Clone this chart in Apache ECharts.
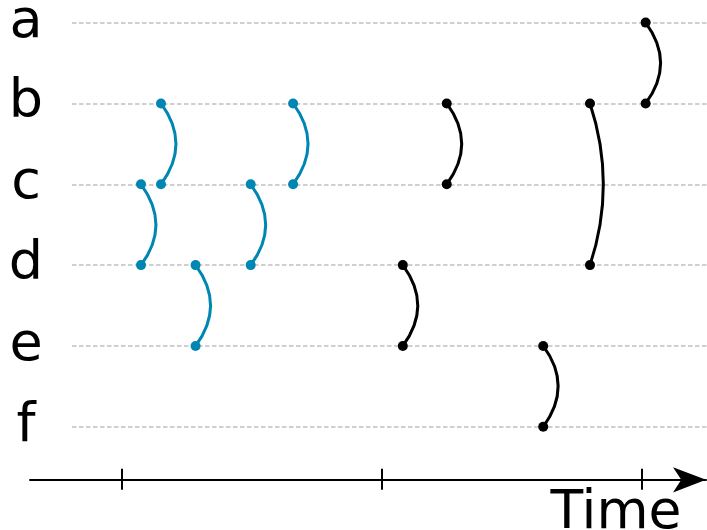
<!DOCTYPE html>
<html><head><meta charset="utf-8">
<script src="https://cdn.jsdelivr.net/npm/echarts@6/dist/echarts.min.js"></script>
<style>html,body{margin:0;padding:0;background:#fff}#c{width:707px;height:530px}</style>
</head><body><div id="c"></div>
<script>
// rows (top to bottom)
const categories = ['a', 'b', 'c', 'd', 'e', 'f'];
// tick marks on the time axis
const timeTicks = [10, 20, 30];
// blue group of links: time, upper row, lower row
const blueTimes = [10.73, 11.5, 12.83, 14.95, 16.58];
const blueFrom  = ['c', 'b', 'd', 'c', 'b'];
const blueTo    = ['d', 'c', 'e', 'd', 'c'];
// black group of links
const blackTimes = [20.8, 22.49, 26.2, 28.0, 30.14];
const blackFrom  = ['d', 'b', 'e', 'b', 'a'];
const blackTo    = ['e', 'c', 'f', 'd', 'b'];

const BLUE = '#0086b3', BLACK = '#000000';
const TOP = 22.6, HEIGHT = 404.2;

function linkData(times, from, to) {
  return times.map((t, i) => {
    const a = categories.indexOf(from[i]), b = categories.indexOf(to[i]);
    const span = Math.abs(b - a);
    return { coords: [[t, Math.min(a, b)], [t, Math.max(a, b)]],
             lineStyle: { curveness: span === 1 ? 0.37 : 0.165 } };
  });
}
function pointData(times, from, to) {
  const out = [];
  times.forEach((t, i) => {
    out.push([t, categories.indexOf(from[i])]);
    out.push([t, categories.indexOf(to[i])]);
  });
  return out;
}

const XMIN = 6.4615, XMAX = 32.4615;
const chart = echarts.init(document.getElementById('c'), null, { renderer: 'canvas' });
chart.setOption({
  animation: false,
  backgroundColor: '#ffffff',
  grid: [
    { left: 72, right: 0, top: TOP, height: HEIGHT, containLabel: false, outerBoundsMode: 'none' },
    { left: 30, right: 1, top: TOP, height: HEIGHT, containLabel: false, outerBoundsMode: 'none' }
  ],
  xAxis: [
    { gridIndex: 0, type: 'value', show: false, min: 0, max: 1 },
    { gridIndex: 1, type: 'value', min: XMIN, max: XMAX, position: 'bottom', offset: 53,
      axisLine: { show: true, symbol: ['none', 'arrow'], symbolSize: [19, 33],
                  lineStyle: { color: '#000', width: 2 } },
      axisTick: { show: true, customValues: timeTicks, inside: false, length: 10,
                  lineStyle: { color: '#000', width: 2 } },
      axisLabel: { show: false }, splitLine: { show: false },
      name: 'Time', nameLocation: 'end', nameGap: -24.5,
      nameTextStyle: { fontFamily: 'DejaVu Sans', fontSize: 53.5, color: '#000',
                       align: 'right', verticalAlign: 'top', padding: [7, 0, 0, 0] } },
    { gridIndex: 1, type: 'value', min: XMIN, max: XMAX, position: 'bottom', offset: 53,
      axisLine: { show: false },
      axisTick: { show: true, customValues: timeTicks, inside: true, length: 11,
                  lineStyle: { color: '#000', width: 2 } },
      axisLabel: { show: false }, splitLine: { show: false } }
  ],
  yAxis: [
    { gridIndex: 0, type: 'category', data: categories, inverse: true, boundaryGap: false,
      axisLine: { show: false }, axisTick: { show: false },
      axisLabel: { fontFamily: 'DejaVu Sans', fontSize: 54, color: '#000',
                   align: 'center', margin: 46, padding: [0, 0, 2, 0] },
      splitLine: { show: true, lineStyle: { color: '#c0c0c0', width: 1.6, type: [4.5, 2.5] } } },
    { gridIndex: 1, type: 'category', data: categories, inverse: true, boundaryGap: false,
      show: false }
  ],
  series: [
    { type: 'lines', coordinateSystem: 'cartesian2d', xAxisIndex: 1, yAxisIndex: 1,
      data: linkData(blueTimes, blueFrom, blueTo),
      lineStyle: { color: BLUE, width: 3, opacity: 1 }, z: 3 },
    { type: 'lines', coordinateSystem: 'cartesian2d', xAxisIndex: 1, yAxisIndex: 1,
      data: linkData(blackTimes, blackFrom, blackTo),
      lineStyle: { color: BLACK, width: 3, opacity: 1 }, z: 3 },
    { type: 'scatter', xAxisIndex: 1, yAxisIndex: 1, symbolSize: 10,
      data: pointData(blueTimes, blueFrom, blueTo),
      itemStyle: { color: BLUE, opacity: 1 }, z: 4 },
    { type: 'scatter', xAxisIndex: 1, yAxisIndex: 1, symbolSize: 10,
      data: pointData(blackTimes, blackFrom, blackTo),
      itemStyle: { color: BLACK, opacity: 1 }, z: 4 }
  ]
});
</script></body></html>
